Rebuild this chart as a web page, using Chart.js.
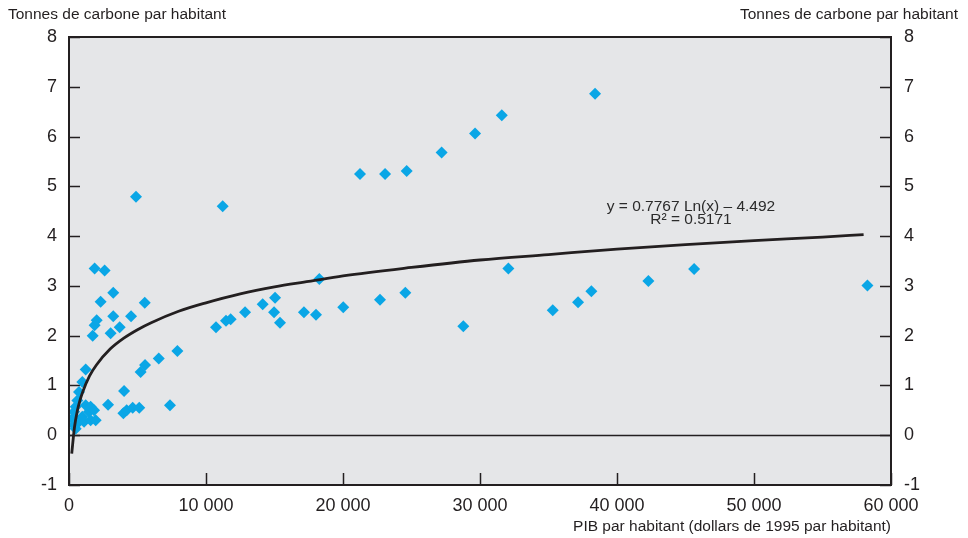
<!DOCTYPE html>
<html>
<head>
<meta charset="utf-8">
<script src="https://cdn.jsdelivr.net/npm/chart.js@4.4.1/dist/chart.umd.min.js"></script>
<style>
  html, body { margin: 0; padding: 0; background: #ffffff; }
  #wrap { width: 968px; height: 538px; }
</style>
</head>
<body>
<div id="wrap"><canvas id="c" width="968" height="538"></canvas></div>
<script>
// ---- Data ----
const gdpPerCapita = [
  240, 370, 370, 490, 490, 610, 730, 730, 970, 1220, 970, 1100, 1220, 1460, 1580, 1580, 1830, 1950,
  2850, 4020, 3970, 4210, 4650, 5130, 7370,
  1730, 1870, 2020, 2310, 1870, 2600, 3230, 3230, 3040, 3700, 4530, 5530, 4890, 5230, 5550, 6550, 7910,
  10730, 11220, 11460, 11800, 12850, 14140, 15040, 14970, 15400, 17150, 18030, 18270, 20020,
  21240, 22700, 23070, 24550, 24650, 27200, 28780, 29640, 31590, 32070, 35310, 37160, 38130,
  38400, 42290, 45630, 58280
];
const carbonPerCapita = [
  0.33, 0.20, 0.47, 0.57, 0.13, 0.70, 0.87, 0.27, 1.07, 1.32, 0.37, 0.27, 0.60, 0.47, 0.57, 0.30, 0.50, 0.30,
  0.61, 0.89, 0.44, 0.50, 0.55, 0.55, 0.60,
  2.00, 2.21, 2.31, 2.68, 3.35, 3.31, 2.86, 2.39, 2.05, 2.17, 2.39, 2.66, 4.79, 1.27, 1.41, 1.54, 1.69,
  2.17, 4.60, 2.30, 2.33, 2.47, 2.63, 2.76, 2.47, 2.26, 2.47, 2.42, 3.14, 2.57,
  5.25, 2.72, 5.25, 2.86, 5.31, 5.68, 2.19, 6.06, 6.43, 3.35, 2.51, 2.67, 2.89,
  6.86, 3.10, 3.34, 3.01
];
// Trend line
const trendX = [200, 400, 600, 800, 1000, 1500, 2000, 3000, 4000, 5000, 6000, 8000, 10000, 12500,
  15000, 17500, 20000, 25000, 30000, 35000, 40000, 45000, 50000, 55000, 58000];
const trendY = [-0.37, 0.16, 0.48, 0.70, 0.87, 1.19, 1.41, 1.73, 1.95, 2.12, 2.26, 2.49, 2.66, 2.84,
  2.98, 3.09, 3.20, 3.37, 3.52, 3.63, 3.74, 3.83, 3.91, 3.98, 4.03];

const xTickValues = [0, 10000, 20000, 30000, 40000, 50000, 60000];
const xTickLabels = ['0', '10 000', '20 000', '30 000', '40 000', '50 000', '60 000'];
const yTickValues = [-1, 0, 1, 2, 3, 4, 5, 6, 7, 8];
const yTickLabels = ['-1', '0', '1', '2', '3', '4', '5', '6', '7', '8'];

const yTitle = 'Tonnes de carbone par habitant';
const xTitle = 'PIB par habitant (dollars de 1995 par habitant)';
const equationLines = ['y = 0.7767 Ln(x) \u2013 4.492', 'R\u00B2 = 0.5171'];

// ---- Chart ----
const TICK_FONT = "'Liberation Sans Narrow', 'Arial Narrow', 'Liberation Sans', Arial, sans-serif";
const TEXT_FONT = "'Liberation Sans', Arial, Helvetica, sans-serif";
const INK = '#231f20';

const scatterPts = gdpPerCapita.map((x, i) => ({ x: x, y: carbonPerCapita[i] }));
const trendPts = trendX.map((x, i) => ({ x: x, y: trendY[i] }));

const decor = {
  id: 'decor',
  beforeDraw(chart) {
    const { ctx, chartArea: a } = chart;
    ctx.save();
    ctx.fillStyle = '#e5e6e8';
    ctx.fillRect(a.left, a.top, a.right - a.left, a.bottom - a.top);
    ctx.restore();
  },
  beforeDatasetsDraw(chart) {
    const { ctx, chartArea: a, scales } = chart;
    ctx.save();
    ctx.strokeStyle = INK;
    ctx.lineWidth = 1.3;
    // zero line
    const y0 = Math.round(scales.y.getPixelForValue(0)) + 0.5;
    ctx.beginPath(); ctx.moveTo(a.left, y0); ctx.lineTo(a.right, y0); ctx.stroke();
    // inward ticks
    ctx.lineWidth = 1.5;
    yTickValues.forEach(v => {
      const py = Math.round(scales.y.getPixelForValue(v)) + 0.5;
      ctx.beginPath(); ctx.moveTo(a.left, py); ctx.lineTo(a.left + 11, py); ctx.stroke();
      ctx.beginPath(); ctx.moveTo(a.right, py); ctx.lineTo(a.right - 11, py); ctx.stroke();
    });
    xTickValues.forEach(v => {
      const px = Math.round(scales.x.getPixelForValue(v)) + 0.5;
      ctx.beginPath(); ctx.moveTo(px, a.bottom); ctx.lineTo(px, a.bottom - 12); ctx.stroke();
    });
    ctx.restore();
  },
  afterDraw(chart) {
    const { ctx, chartArea: a, scales } = chart;
    ctx.save();
    ctx.strokeStyle = INK;
    ctx.lineWidth = 2;
    ctx.strokeRect(a.left, a.top, a.right - a.left, a.bottom - a.top);
    ctx.fillStyle = INK;
    ctx.font = '15.5px ' + TEXT_FONT;
    ctx.textBaseline = 'middle';
    ctx.textAlign = 'left';
    ctx.fillText(yTitle, 8, 15);
    ctx.textAlign = 'right';
    ctx.fillText(yTitle, 958, 15);
    // equation annotation
    ctx.font = '15.5px ' + TEXT_FONT;
    ctx.fillStyle = '#2b2b2b';
    ctx.textAlign = 'center';
    const ex = scales.x.getPixelForValue(45400);
    ctx.fillText(equationLines[0], ex, scales.y.getPixelForValue(4.6));
    ctx.fillText(equationLines[1], ex, scales.y.getPixelForValue(4.32));
    ctx.restore();
  }
};

new Chart(document.getElementById('c'), {
  type: 'scatter',
  data: {
    datasets: [
      {
        label: 'Pays',
        data: scatterPts,
        pointStyle: 'rectRot',
        pointRadius: 6,
        pointHoverRadius: 6,
        backgroundColor: '#0aa6e6',
        borderColor: '#0aa6e6',
        borderWidth: 0,
        order: 2
      },
      {
        label: 'Tendance',
        data: trendPts,
        showLine: true,
        pointRadius: 0,
        borderColor: INK,
        borderWidth: 2.8,
        cubicInterpolationMode: 'monotone',
        order: 1
      }
    ]
  },
  options: {
    responsive: false,
    animation: false,
    devicePixelRatio: 1,
    layout: { padding: { top: 37, left: 0, right: 0, bottom: 0 } },
    plugins: {
      legend: { display: false },
      tooltip: { enabled: false },
      title: { display: false }
    },
    scales: {
      x: {
        type: 'linear',
        min: 0, max: 60000,
        afterBuildTicks(scale) { scale.ticks = xTickValues.map(v => ({ value: v })); },
        afterFit(scale) { scale.height = 53; },
        grid: { display: false, drawTicks: false },
        border: { display: false },
        ticks: {
          padding: 10,
          color: INK,
          maxRotation: 0,
          autoSkip: false,
          font: { family: TICK_FONT, size: 18 },
          callback: (v) => { const i = xTickValues.indexOf(v); return i >= 0 ? xTickLabels[i] : ''; }
        },
        title: {
          display: true,
          text: xTitle,
          align: 'end',
          color: INK,
          font: { family: TEXT_FONT, size: 15.5 },
          padding: { top: 0, bottom: 2 }
        }
      },
      y: {
        type: 'linear',
        position: 'left',
        min: -1, max: 8,
        afterBuildTicks(scale) { scale.ticks = yTickValues.map(v => ({ value: v })); },
        afterFit(scale) { scale.width = 69; },
        grid: { display: false, drawTicks: false },
        border: { display: false },
        ticks: {
          padding: 12,
          color: INK,
          font: { family: TICK_FONT, size: 18 },
          callback: (v) => { const i = yTickValues.indexOf(v); return i >= 0 ? yTickLabels[i] : ''; }
        }
      },
      y2: {
        type: 'linear',
        position: 'right',
        min: -1, max: 8,
        afterBuildTicks(scale) { scale.ticks = yTickValues.map(v => ({ value: v })); },
        afterFit(scale) { scale.width = 77; },
        grid: { display: false, drawTicks: false },
        border: { display: false },
        ticks: {
          padding: 13,
          color: INK,
          font: { family: TICK_FONT, size: 18 },
          callback: (v) => { const i = yTickValues.indexOf(v); return i >= 0 ? yTickLabels[i] : ''; }
        }
      }
    }
  },
  plugins: [decor]
});
</script>
</body>
</html>
